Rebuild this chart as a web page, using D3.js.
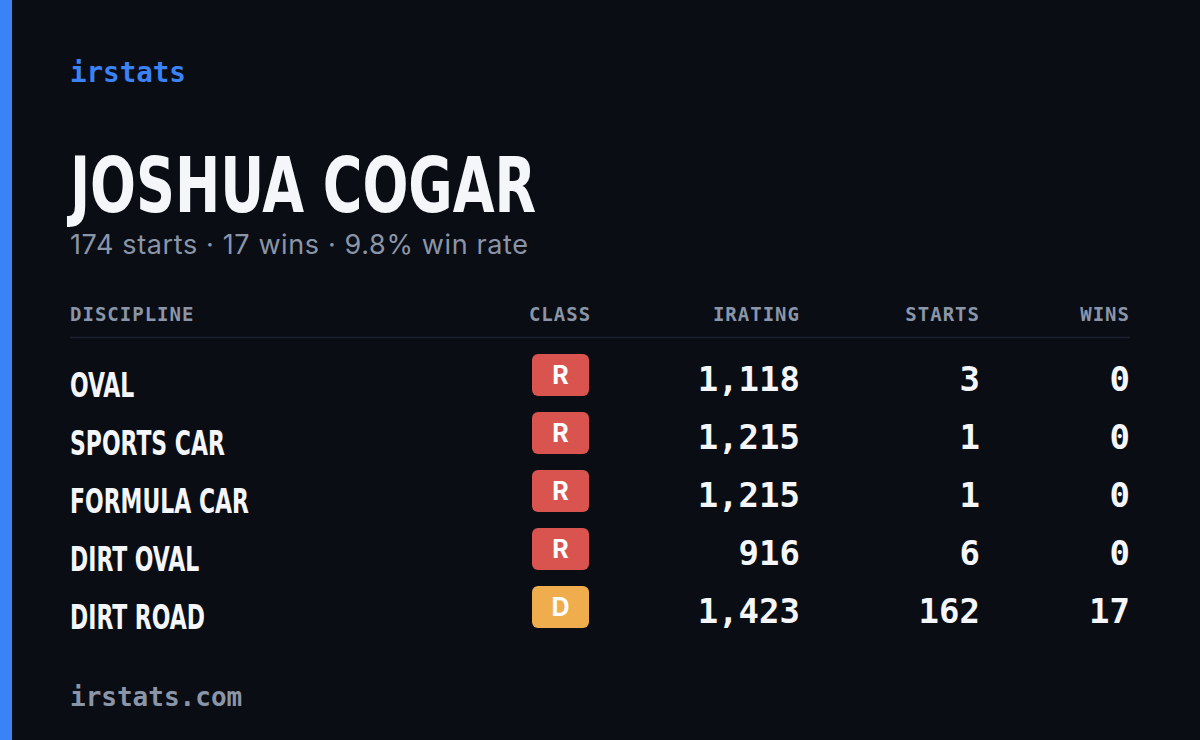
<!DOCTYPE html>
<html><head><meta charset="utf-8">
<script src="https://cdn.jsdelivr.net/npm/d3@7"></script>
<style>body{margin:0;background:#0a0d14}</style></head>
<body><svg id="c" width="1200" height="740"></svg>
<script>
const disciplines=["OVAL","SPORTS CAR","FORMULA CAR","DIRT OVAL","DIRT ROAD"];
const classes=["R","R","R","R","D"];
const iratings=[1118,1215,1215,916,1423];
const starts=[3,1,1,6,162];
const wins=[0,0,0,0,17];
const headers=["DISCIPLINE","CLASS","IRATING","STARTS","WINS"];
const classColor={R:"#d9534f",D:"#f0ad4e"};
const mono="'DejaVu Sans Mono','Liberation Mono',monospace";
const cond="'DejaVu Sans Condensed','Liberation Sans Narrow',sans-serif";
const svg=d3.select("#c");
svg.append("rect").attr("width",1200).attr("height",740).attr("fill","#0a0d14");
svg.append("rect").attr("width",12).attr("height",740).attr("fill","#3b82f6");
svg.append("text").attr("x",70).attr("y",82).attr("font-family",mono).attr("font-weight","bold").attr("font-size",27.5).attr("fill","#3b82f6").text("irstats");
svg.append("text").attr("transform","translate(70,212) scale(0.78,1)").attr("font-family",cond).attr("font-weight","bold").attr("font-size",77).attr("fill","#f4f6fa").text("JOSHUA COGAR");
svg.append("text").attr("x",70).attr("y",254).attr("font-family","Inter,sans-serif").attr("font-size",27).attr("fill","#8b95a8").attr("textLength",458).attr("lengthAdjust","spacing").text("174 starts · 17 wins · 9.8% win rate");
const hx=[{x:70,a:"start"},{x:560,a:"middle"},{x:800,a:"end"},{x:980,a:"end"},{x:1130,a:"end"}];
svg.selectAll("text.h").data(headers).join("text").attr("class","h")
 .attr("x",(d,i)=>hx[i].x).attr("text-anchor",(d,i)=>hx[i].a).attr("y",321)
 .attr("font-family",mono).attr("font-weight","bold").attr("font-size",19).attr("letter-spacing",1).attr("fill","#8b95a8").text(d=>d);
svg.append("line").attr("x1",70).attr("x2",1130).attr("y1",337.5).attr("y2",337.5).attr("stroke","#1c2230").attr("stroke-width",1.5);
const y=d3.scaleBand().domain(disciplines).range([346,636]);
const g=svg.selectAll("g.row").data(disciplines).join("g").attr("transform",d=>`translate(0,${y(d)+y.bandwidth()/2})`);
g.append("text").attr("transform","translate(70,22) scale(0.74,1)").attr("font-family",cond).attr("font-weight","bold").attr("font-size",33).attr("fill","#f4f6fa").text(d=>d);
g.append("rect").attr("x",532).attr("y",-21).attr("width",57).attr("height",42).attr("rx",6).attr("fill",(d,i)=>classColor[classes[i]]);
g.append("text").attr("x",560.5).attr("y",9).attr("text-anchor","middle").attr("font-family","Inter,sans-serif").attr("font-weight","bold").attr("font-size",25).attr("fill","#fff").text((d,i)=>classes[i]);
const fmt=d3.format(",");
const cols=[[iratings,800],[starts,980],[wins,1130]];
cols.forEach(([arr,x])=>{
 g.append("text").attr("x",x).attr("y",16).attr("text-anchor","end").attr("font-family",mono).attr("font-weight","bold").attr("font-size",34).attr("fill","#f4f6fa").text((d,i)=>fmt(arr[i]));
});
svg.append("text").attr("x",70).attr("y",706).attr("font-family",mono).attr("font-weight","bold").attr("font-size",26).attr("fill","#8b95a8").text("irstats.com");
</script></body></html>
